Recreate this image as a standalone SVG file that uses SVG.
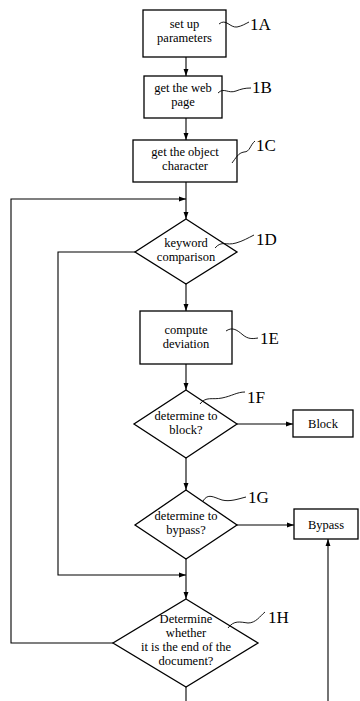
<svg xmlns="http://www.w3.org/2000/svg" width="360" height="701" viewBox="0 0 360 701">
<defs>
<style>
.n{fill:#fff;stroke:#000;stroke-width:1.3}
.t{font-family:"Liberation Serif",serif;font-size:12.5px;text-anchor:middle;fill:#000}
.l{font-family:"Liberation Serif",serif;font-size:17px;fill:#000}
.c{fill:none;stroke:#000;stroke-width:1.1}
.ld{fill:none;stroke:#000;stroke-width:0.9}
</style>
<marker id="a" viewBox="0 0 10 10" refX="10" refY="5" markerWidth="7" markerHeight="7" orient="auto" markerUnits="userSpaceOnUse">
<path d="M0,1.5 L10,5 L0,8.5 Z" fill="#000"/>
</marker>
</defs>
<rect width="360" height="701" fill="#fff"/>
<g id="connectors">
<line class="c" x1="186" y1="57" x2="186" y2="76" marker-end="url(#a)"/>
<line class="c" x1="186" y1="118" x2="186" y2="140" marker-end="url(#a)"/>
<line class="c" x1="186" y1="182" x2="186" y2="219" marker-end="url(#a)"/>
<polyline class="c" points="113,643 11,643 11,199 186,199" marker-end="url(#a)"/>
<polyline class="c" points="135,252 58,252 58,575 186,575" marker-end="url(#a)"/>
<line class="c" x1="186" y1="284" x2="186" y2="311" marker-end="url(#a)"/>
<line class="c" x1="186" y1="364" x2="186" y2="390" marker-end="url(#a)"/>
<line class="c" x1="237" y1="424" x2="293" y2="424" marker-end="url(#a)"/>
<line class="c" x1="186" y1="458" x2="186" y2="490" marker-end="url(#a)"/>
<line class="c" x1="237" y1="525" x2="294" y2="525" marker-end="url(#a)"/>
<line class="c" x1="186" y1="559" x2="186" y2="599" marker-end="url(#a)"/>
<line class="c" x1="186" y1="687" x2="186" y2="701"/>
<line class="c" x1="328" y1="701" x2="328" y2="539" marker-end="url(#a)"/>
</g>
<g id="n1A">
<rect class="n" x="143" y="10" width="83" height="47"/>
<text class="t" x="184.5" y="28">set up</text>
<text class="t" x="184.5" y="42">parameters</text>
<path class="ld" d="M219,24 C226,18 230,28 237,27 C242,26 245,24 249,22"/>
<text class="l" x="250" y="30">1A</text>
</g>
<g id="n1B">
<rect class="n" x="144" y="76" width="78" height="42"/>
<text class="t" x="183" y="92">get the web</text>
<text class="t" x="183" y="106">page</text>
<path class="ld" d="M218,93 C224,87 228,94 236,91 C241,89 245,88 251,88"/>
<text class="l" x="252" y="93">1B</text>
</g>
<g id="n1C">
<rect class="n" x="133" y="140" width="104" height="42"/>
<text class="t" x="185" y="156">get the object</text>
<text class="t" x="185" y="170">character</text>
<path class="ld" d="M232,163 C236,158 238,153 244,152 C250,152 250,145 255,141"/>
<text class="l" x="256" y="151">1C</text>
</g>
<g id="n1D">
<polygon class="n" points="186,219 237,252 186,284 135,252"/>
<text class="t" x="186" y="247">keyword</text>
<text class="t" x="186" y="261">comparison</text>
<path class="ld" d="M215,248 C222,240 226,246 236,243 C243,241 248,238 254,235"/>
<text class="l" x="256" y="245">1D</text>
</g>
<g id="n1E">
<rect class="n" x="140" y="311" width="92" height="53"/>
<text class="t" x="186" y="334">compute</text>
<text class="t" x="186" y="348">deviation</text>
<path class="ld" d="M226,331 C232,327 236,329 243,335 C248,339 252,339 258,338"/>
<text class="l" x="260" y="344">1E</text>
</g>
<g id="n1F">
<polygon class="n" points="186,390 237,424 186,458 134,424"/>
<text class="t" x="186" y="420">determine to</text>
<text class="t" x="186" y="434">block?</text>
<path class="ld" d="M200,404 C206,396 212,400 222,398 C232,396 237,392 245,392"/>
<text class="l" x="247" y="403">1F</text>
</g>
<g id="nBlock">
<rect class="n" x="293" y="410" width="60" height="27"/>
<text class="t" x="323" y="428">Block</text>
</g>
<g id="n1G">
<polygon class="n" points="186,490 237,525 186,559 135,525"/>
<text class="t" x="186" y="520">determine to</text>
<text class="t" x="186" y="534">bypass?</text>
<path class="ld" d="M203,501 C208,493 213,497 222,500 C230,502 238,499 246,497"/>
<text class="l" x="248" y="503">1G</text>
</g>
<g id="nBypass">
<rect class="n" x="294" y="509" width="64" height="30"/>
<text class="t" x="326" y="529">Bypass</text>
</g>
<g id="n1H">
<polygon class="n" points="186,599 258,643 186,687 113,643"/>
<text class="t" x="186" y="623">Determine</text>
<text class="t" x="186" y="637">whether</text>
<text class="t" x="186" y="651">it is the end of the</text>
<text class="t" x="186" y="665">document?</text>
<path class="ld" d="M228,628 C234,620 240,622 248,623 C256,623 260,616 265,612"/>
<text class="l" x="268" y="623">1H</text>
</g>
</svg>
